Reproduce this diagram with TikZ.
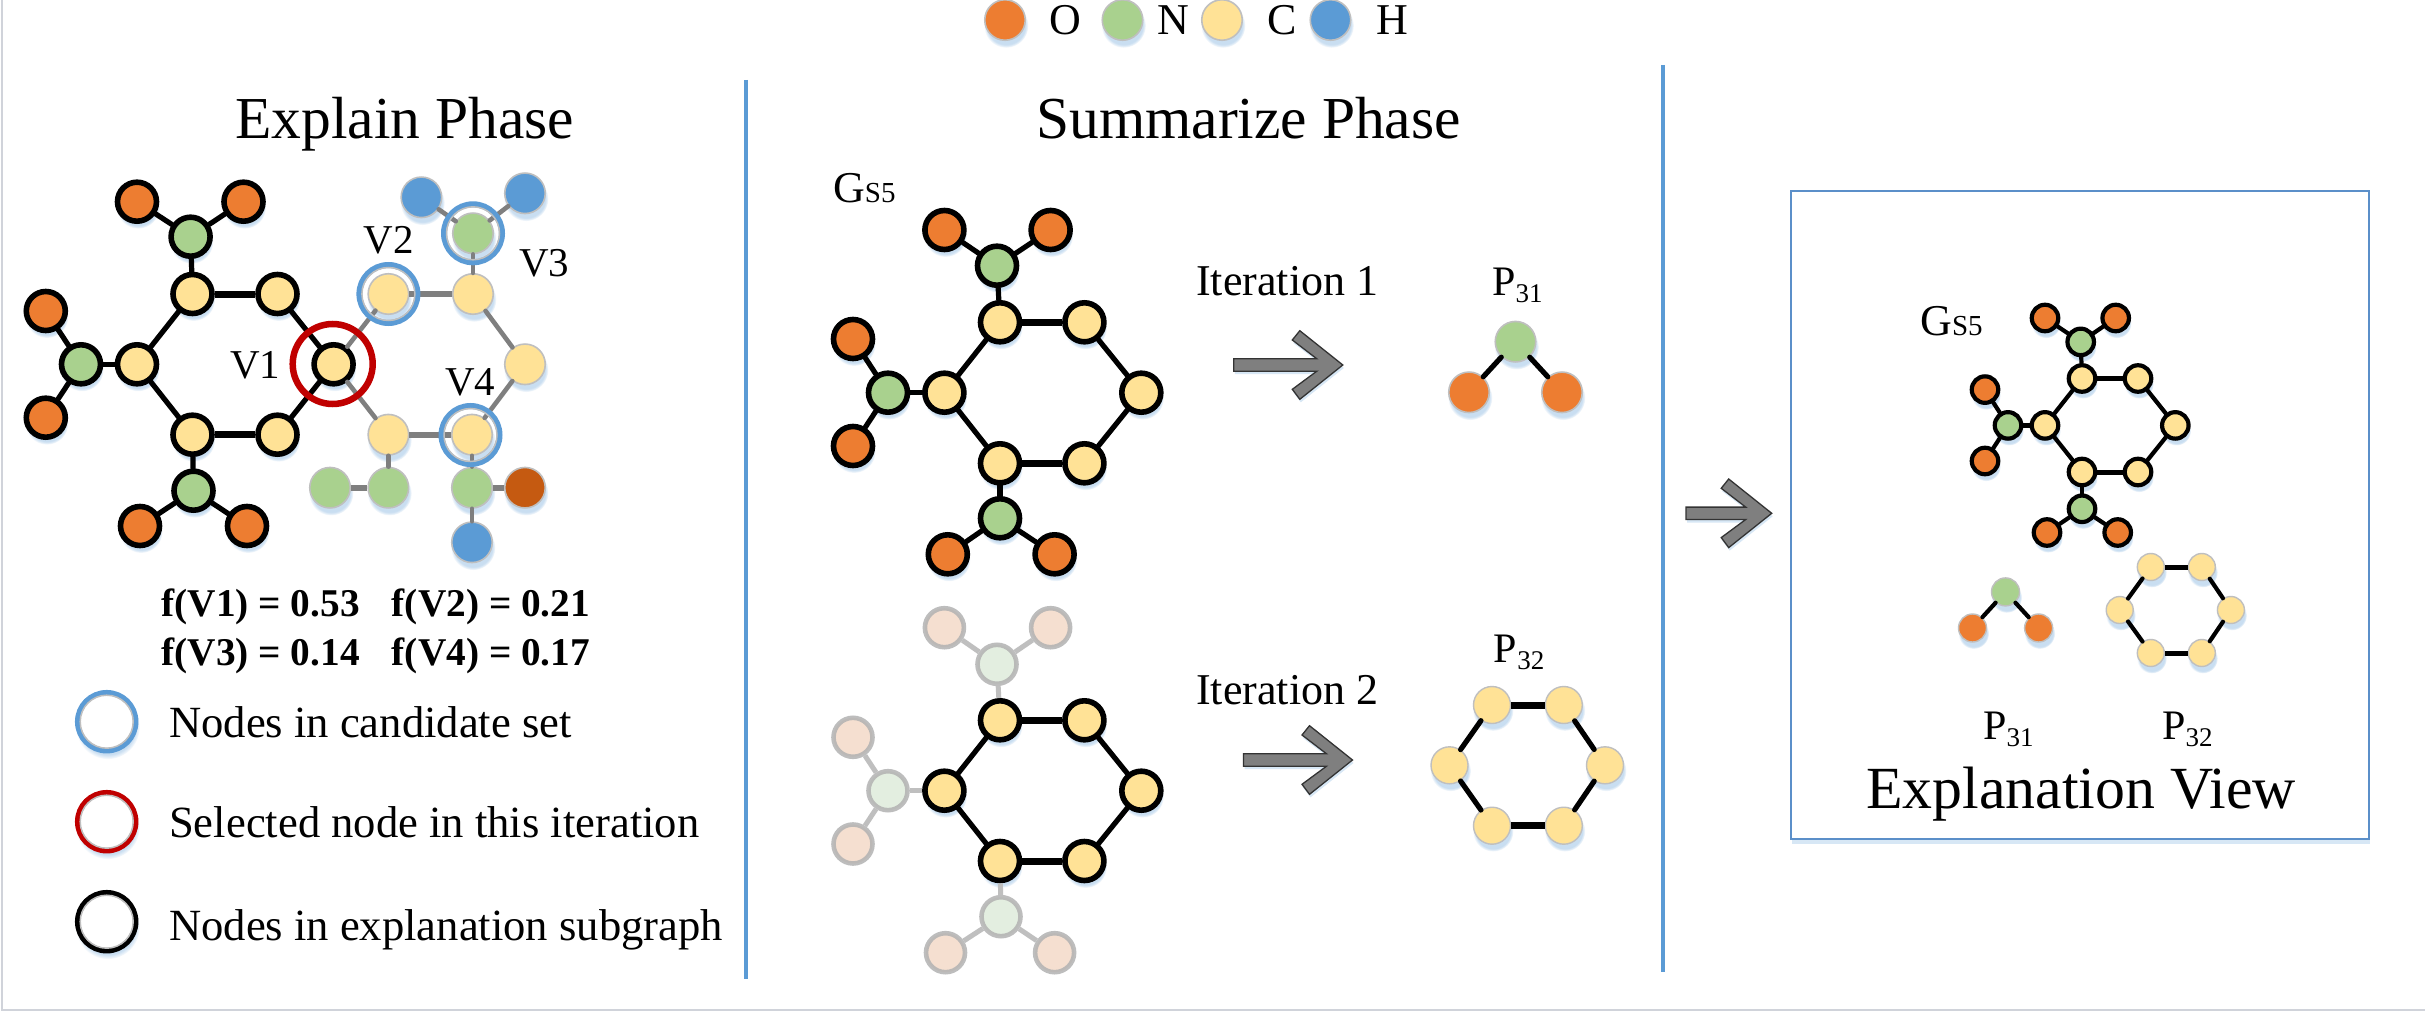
\documentclass[tikz,border=0pt]{standalone}
\usepackage{fontspec}
\setmainfont{Liberation Serif}
\usetikzlibrary{shadows}
\definecolor{cO}{HTML}{ED7D31}
\definecolor{cN}{HTML}{A9D18E}
\definecolor{cC}{HTML}{FFE296}
\definecolor{cH}{HTML}{5B9BD5}
\definecolor{cD}{HTML}{C55A11}
\definecolor{fO}{HTML}{F5DFD0}
\definecolor{fN}{HTML}{E3EEE0}
\definecolor{cRing}{HTML}{5B9BD5}
\definecolor{cRed}{HTML}{C00000}
\definecolor{cGr}{HTML}{7F7F7F}
\definecolor{cSh}{HTML}{9DC3E6}
\definecolor{cOut}{HTML}{BFBFBF}
\definecolor{cBox}{HTML}{5B8FC9}
\definecolor{cEdge}{HTML}{D0D3DA}
\newcommand{\subsc}[1]{\raisebox{-7pt}{\fontsize{27}{27}\selectfont #1}}
\newcommand{\gsfive}{G{\fontsize{29}{29}\selectfont S5}}
\tikzset{
  soft/.style={circular drop shadow={shadow xshift=1pt,shadow yshift=-5pt,shadow scale=1.1,fill=cSh,opacity=.55}},
  atom/.style={circle,inner sep=0pt,soft},
  blk/.style={atom,draw=black,line width=5.6pt,minimum size=39pt},
  pln/.style={atom,draw=cOut,line width=1.6pt,minimum size=40.5pt},
  plnb/.style={atom,draw=cOut,line width=1.4pt,minimum size=#1},
  sblk/.style={atom,draw=black,line width=4.2pt,minimum size=26.5pt},
  fad/.style={circle,inner sep=0pt,draw=black!30,draw opacity=.85,line width=4.6pt,minimum size=39pt},
  bond/.style={draw=black,line width=5.2pt,line cap=round},
  bondw/.style={draw=black,line width=7pt},
  gbond/.style={draw=cGr,line width=4.6pt,line cap=round},
  gbondw/.style={draw=cGr,line width=6pt},
  fbond/.style={draw=black!25,line width=5pt},
  sbond/.style={draw=black,line width=4.2pt,line cap=round},
  sbondw/.style={draw=black,line width=5pt},
  ringb/.style={circle,inner sep=0pt,draw=cRing,line width=6pt,minimum size=58pt},
  ringi/.style={circle,inner sep=0pt,draw=cOut,line width=1.5pt,minimum size=53pt},
  ringr/.style={circle,inner sep=0pt,draw=cRed,line width=6.5pt,minimum size=80pt},
  legring/.style={circle,inner sep=0pt,line width=5.5pt,minimum size=58pt,soft,fill=white},
  divider/.style={draw=cRing,line width=3.4pt},
  txt/.style={anchor=base west,inner sep=0pt,font=\fontsize{#1}{#1}\selectfont},
  btxt/.style={anchor=base west,inner sep=0pt,font=\fontsize{#1}{#1}\selectfont\bfseries},
  viewbox/.style={draw=cBox,line width=2.6pt,fill=white,drop shadow={shadow xshift=1pt,shadow yshift=-5pt,fill=cSh,opacity=.4}},
  grayarrow/.pic={
    \path[fill=cGr,draw=black!80,line width=1.3pt,line join=miter,
      drop shadow={shadow xshift=1pt,shadow yshift=-3pt,fill=cSh,opacity=.4}]
      (-#1,-6.2)--(-26,-6.2)--(-50.5,-25)--(-43,-34.3)--(0,0)--(-43,34.3)--(-50.5,24.3)--(-26,6.2)--(-#1,6.2)--cycle;
  },
}
\begin{document}
\begin{tikzpicture}[x=1pt,y=-1pt]
\useasboundingbox (0,0) rectangle (2425,1011);
\fill[white] (0,0) rectangle (2425,1011);
\coordinate (bl) at (1.5,1009.5);
\coordinate (tl) at (1.5,0);
\coordinate (br) at (2425,1009.5);
\draw[cEdge,line width=2pt] (tl)--(bl)--(br);

% legend on top
\foreach \n/\c/\x in {lgO/cO/1005,lgN/cN/1122.5,lgC/cC/1222,lgH/cH/1330.5}
  \node[pln,fill=\c] (\n) at (\x,20) {};
\foreach \n/\t/\x in {ltO/O/1049,ltN/N/1157,ltC/C/1267,ltH/H/1376}
  \node[txt=44] (\n) at (\x,35) {\t};

% dividers
\coordinate (d1a) at (746,80); \coordinate (d1b) at (746,979);
\coordinate (d2a) at (1663,65); \coordinate (d2b) at (1663,972);
\draw[divider] (d1a)--(d1b);
\draw[divider] (d2a)--(d2b);

% titles
\node[txt=59.5] (t1) at (235,139) {Explain Phase};
\node[txt=59.5] (t2) at (1036,139) {Summarize Phase};

% Explain: faded-out part
\foreach \n/\c/\x/\y in {eH1/cH/421.4/197.3,eH2/cH/525/193.3,eN3/cN/473/233.3,eV2/cC/388.4/294,eCa/cC/473/294,
   eCr/cC/525/364.3,eV4/cC/472/434.7,eCb/cC/388.4/434.7,eNa/cN/388.4/487.7,eNb/cN/330/487.7,eNc/cN/472/487.7,eDk/cD/525/487.7,eH3/cH/472/542.3}
  \node[pln,fill=\c] (\n) at (\x,\y) {};
% Explain: black part
\foreach \n/\c/\x/\y in {eO1/cO/137/201.7,eO2/cO/243.5/201.7,eN1/cN/190.6/236.7,eC1/cC/192.5/294,eC2/cC/277.5/294,
   eC3/cC/137/364.3,eN2/cN/81/364.3,eO3/cO/45.8/311,eO4/cO/45.8/417.7,eV1/cC/333.6/364.3,eC4/cC/192.5/434.7,eC5/cC/277.5/434.7,
   eN4/cN/193.5/490.7,eO5/cO/140/526,eO6/cO/247/526}
  \node[blk,fill=\c] (\n) at (\x,\y) {};
\foreach \a/\b in {eO1/eN1,eO2/eN1,eN1/eC1,eC1/eC3,eC2/eV1,eV1/eC5,eC4/eC3,eN2/eC3,eO3/eN2,eO4/eN2,eC4/eN4,eN4/eO5,eN4/eO6}
  \draw[bond] (\a)--(\b);
\foreach \a/\b in {eC1/eC2,eC4/eC5}
  \draw[bondw] (\a)--(\b);
\foreach \a/\b in {eV1/eV2,eV1/eCb,eCa/eCr,eCr/eV4,eH1/eN3,eH2/eN3,eN3/eCa,eCb/eNa,eV4/eNc,eNc/eH3}
  \draw[gbond] (\a)--(\b);
\foreach \a/\b in {eV2/eCa,eCb/eV4,eNa/eNb,eNc/eDk}
  \draw[gbondw] (\a)--(\b);
\foreach \n/\x/\y in {rV2/388.4/294,rV3/473/233.3,rV4/470.5/435}{
  \node[ringb] (\n) at (\x,\y) {};
  \node[ringi] (\n i) at (\x,\y) {};
}
\node[ringr] (rV1) at (332.7,364) {};
\node[txt=41] (lV1) at (229.8,378) {V1};
\node[txt=41] (lV2) at (363.4,253) {V2};
\node[txt=41] (lV3) at (519,276) {V3};
\node[txt=41] (lV4) at (445,395.7) {V4};

% scores
\node[btxt=39.3] (f1) at (161.4,616.7) {f(V1) = 0.53};
\node[btxt=39.3] (f2) at (391.7,616.7) {f(V2) = 0.21};
\node[btxt=39.3] (f3) at (161.4,665) {f(V3) = 0.14};
\node[btxt=39.3] (f4) at (391.7,665) {f(V4) = 0.17};

% ring legend
\node[legring,draw=cRing] (k1) at (106.7,721.7) {};
\node[ringi] (k1i) at (106.7,721.7) {};
\node[legring,draw=cRed] (k2) at (106.7,821.7) {};
\node[ringi] (k2i) at (106.7,821.7) {};
\node[legring,draw=black] (k3) at (106.7,921.7) {};
\node[ringi] (k3i) at (106.7,921.7) {};
\node[txt=44.6] (k1t) at (169,737.5) {Nodes in candidate set};
\node[txt=44.6] (k2t) at (169,837.5) {Selected node in this iteration};
\node[txt=44.6] (k3t) at (169,940) {Nodes in explanation subgraph};

% Summarize: iteration 1
\node[txt=44] (g1) at (833,203) {\gsfive};
\foreach \n/\c/\x/\y in {aO1/cO/944.4/230,aO2/cO/1050.6/230,aN1/cN/997/265.7,aC1/cC/1000/322.3,aC2/cC/1084.4/322.3,aC3/cC/944.4/392.7,
   aC6/cC/1141.3/392.7,aN2/cN/888/392.7,aO3/cO/853/339,aO4/cO/853/446,aC4/cC/1000/463.3,aC5/cC/1084.4/463.3,aN4/cN/1000/518.3,aO5/cO/947.8/554.3,aO6/cO/1054.6/554.3}
  \node[blk,fill=\c] (\n) at (\x,\y) {};
\foreach \a/\b in {aO1/aN1,aO2/aN1,aN1/aC1,aC1/aC3,aC2/aC6,aC6/aC5,aC4/aC3,aN2/aC3,aO3/aN2,aO4/aN2,aC4/aN4,aN4/aO5,aN4/aO6}
  \draw[bond] (\a)--(\b);
\foreach \a/\b in {aC1/aC2,aC4/aC5}
  \draw[bondw] (\a)--(\b);
\node[txt=44] (it1) at (1196,295) {Iteration 1};
\pic (ar1) at (1342.8,365) {grayarrow=109};
\node[txt=42] (p31a) at (1492,295) {P\subsc{31}};
\foreach \n/\c/\x/\y in {pN/cN/1515.5/341.7,pOa/cO/1469/392.3,pOb/cO/1562/392.3}
  \node[pln,fill=\c] (\n) at (\x,\y) {};
\foreach \a/\b in {pN/pOa,pN/pOb}
  \draw[bond] (\a)--(\b);

% Summarize: iteration 2
\foreach \n/\c/\x/\y in {bO1/fO/944.4/627.7,bO2/fO/1050.6/627.7,bN1/fN/997/664.3,bN2/fN/888/790.7,bO3/fO/853/737.3,bO4/fO/853/844,bN4/fN/1001/916.7,bO5/fO/945.5/952.7,bO6/fO/1054.6/952.7}
  \node[fad,fill=\c] (\n) at (\x,\y) {};
\foreach \n/\x/\y in {bC1/1000/720.3,bC2/1084.4/720.3,bC3/944.4/790.7,bC6/1141.3/790.7,bC4/1000/861,bC5/1084.4/861}
  \node[blk,fill=cC] (\n) at (\x,\y) {};
\foreach \a/\b in {bO1/bN1,bO2/bN1,bN1/bC1,bN2/bC3,bO3/bN2,bO4/bN2,bC4/bN4,bN4/bO5,bN4/bO6}
  \draw[fbond] (\a)--(\b);
\foreach \a/\b in {bC1/bC3,bC2/bC6,bC6/bC5,bC4/bC3}
  \draw[bond] (\a)--(\b);
\foreach \a/\b in {bC1/bC2,bC4/bC5}
  \draw[bondw] (\a)--(\b);
\node[txt=44] (it2) at (1196,704) {Iteration 2};
\pic (ar2) at (1352.5,760) {grayarrow=109};
\node[txt=42] (p32a) at (1493.7,662.7) {P\subsc{32}};
\foreach \n/\x/\y in {qA/1492/705,qB/1563.8/705,qF/1449.5/765.3,qC/1605/765.3,qE/1492/825.7,qD/1563.8/825.7}
  \node[plnb=37pt,fill=cC] (\n) at (\x,\y) {};
\foreach \a/\b in {qB/qC,qC/qD,qE/qF,qF/qA}
  \draw[bond] (\a)--(\b);
\foreach \a/\b in {qA/qB,qD/qE}
  \draw[bondw] (\a)--(\b);

% arrow to view
\pic (ar3) at (1771.7,513.3) {grayarrow=85.7};

% Explanation view
\node[viewbox,minimum width=578pt,minimum height=647.7pt,inner sep=0pt] (view) at (2080,515) {};
\node[txt=44] (g2) at (1920,335) {\gsfive};
\foreach \n/\c/\x/\y in {cO1/cO/2045/318,cO2/cO/2115.7/318,cN1/cN/2080.7/341.9,cC1/cC/2082/378.5,cC2/cC/2138/378.5,cC3/cC/2045/425.4,
   cC6/cC/2175.3/425.4,cN2/cN/2008/425.4,cO3/cO/1985/389.6,cO4/cO/1985/461,cC4/cC/2082/472,cC5/cC/2138/472,cN4/cN/2082/508.8,cO5/cO/2047/532.5,cO6/cO/2117.7/532.5}
  \node[sblk,fill=\c] (\n) at (\x,\y) {};
\foreach \a/\b in {cO1/cN1,cO2/cN1,cN1/cC1,cC1/cC3,cC2/cC6,cC6/cC5,cC4/cC3,cN2/cC3,cO3/cN2,cO4/cN2,cC4/cN4,cN4/cO5,cN4/cO6}
  \draw[sbond] (\a)--(\b);
\foreach \a/\b in {cC1/cC2,cC4/cC5}
  \draw[sbondw] (\a)--(\b);
\foreach \n/\c/\x/\y in {uN/cN/2005.5/591.9,uOa/cO/1972.5/628,uOb/cO/2038.6/628}
  \node[plnb=28pt,fill=\c] (\n) at (\x,\y) {};
\foreach \a/\b in {uN/uOa,uN/uOb}
  \draw[sbond] (\a)--(\b);
\foreach \n/\x/\y in {vA/2150.8/567,vB/2201.8/567,vF/2119.7/610,vC/2230.9/610,vE/2150.8/653,vD/2201.8/653}
  \node[plnb=27pt,fill=cC] (\n) at (\x,\y) {};
\foreach \a/\b in {vB/vC,vC/vD,vE/vF,vF/vA}
  \draw[sbond] (\a)--(\b);
\foreach \a/\b in {vA/vB,vD/vE}
  \draw[sbondw] (\a)--(\b);
\node[txt=42] (p31b) at (1983,739) {P\subsc{31}};
\node[txt=42] (p32b) at (2162,739) {P\subsc{32}};
\node[txt=59.8] (evt) at (1866,808) {Explanation View};
\end{tikzpicture}
\end{document}
